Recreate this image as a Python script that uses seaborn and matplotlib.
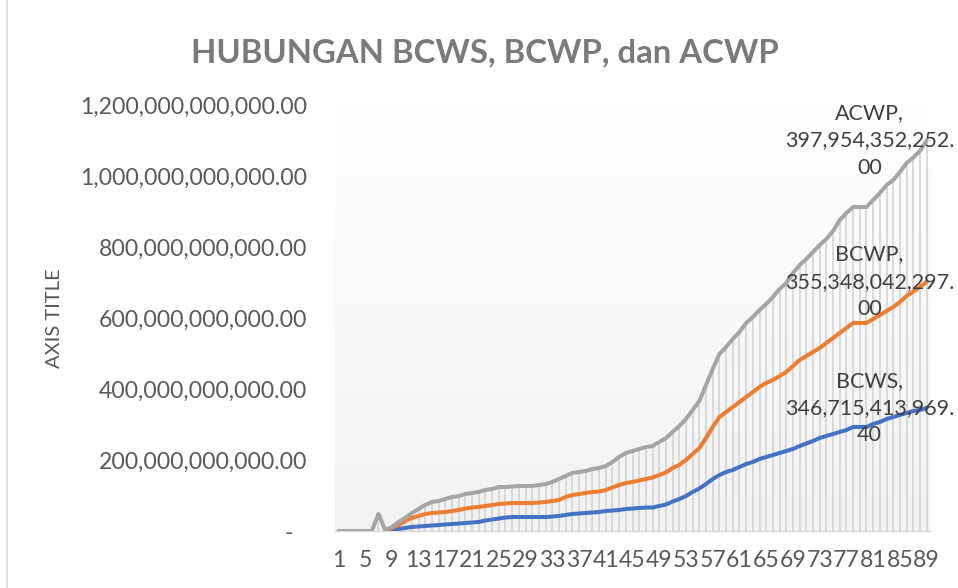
import numpy as np
import pandas as pd
import matplotlib
matplotlib.use("Agg")
import matplotlib.pyplot as plt
import seaborn as sns
from matplotlib.ticker import FixedLocator, FuncFormatter
from matplotlib.lines import Line2D

nan = np.nan

# ---------------- data (values in billions) ----------------
periods = list(range(1, 90))

bcws = [nan, nan, nan, nan, nan, nan, nan, 0.0, 2.8, 5.6,
        8.5, 11.3, 12.7, 14.1, 15.5, 16.9, 18.3, 19.7, 21.1, 22.5,
        23.9, 25.4, 29.6, 32.4, 35.2, 38.0, 39.4, 39.4, 39.4, 39.4,
        39.4, 39.4, 40.8, 42.3, 45.1, 47.9, 49.3, 50.7, 52.1, 53.5,
        56.3, 57.7, 59.2, 62.0, 63.4, 64.8, 66.2, 66.2, 70.4, 74.6,
        83.1, 90.1, 98.6, 109.9, 119.7, 132.4, 146.5, 157.7, 166.2, 171.8,
        180.3, 188.7, 194.4, 202.8, 208.5, 214.1, 219.7, 225.4, 231.0, 239.4,
        246.5, 253.5, 262.0, 267.6, 273.2, 278.9, 284.5, 293.0, 293.0, 293.0,
        301.4, 307.0, 315.5, 321.1, 326.8, 332.4, 338.0, 340.8, 346.7154139694]

bcwp = [nan, nan, nan, nan, nan, nan, nan, 0.0, 5.6, 11.3,
        19.7, 25.4, 29.6, 33.8, 35.2, 35.2, 35.2, 36.6, 38.0, 40.8,
        42.3, 42.3, 40.8, 40.8, 40.8, 39.4, 39.4, 39.4, 39.4, 39.4,
        40.8, 42.3, 43.7, 45.1, 50.7, 53.5, 54.9, 56.3, 57.7, 57.7,
        59.2, 64.8, 70.4, 73.2, 74.6, 77.5, 80.3, 84.5, 87.3, 90.1,
        94.4, 95.8, 101.4, 107.0, 114.1, 129.6, 146.5, 163.4, 169.0, 177.5,
        183.1, 188.7, 197.2, 202.8, 208.5, 211.3, 216.9, 222.5, 233.8, 242.3,
        246.5, 250.7, 253.5, 262.0, 270.4, 278.9, 287.3, 293.0, 293.0, 293.0,
        295.8, 301.4, 304.2, 309.9, 318.3, 329.6, 336.7, 346.5, 355.348042297]

acwp = [0.0, 0.0, 0.0, 0.0, 0.0, 0.0, 47.9, 2.8, 2.8, 8.5,
        8.5, 14.1, 19.7, 25.4, 31.0, 32.4, 36.6, 39.4, 39.4, 40.8,
        40.8, 42.3, 45.1, 45.1, 47.9, 46.5, 46.5, 47.9, 47.9, 47.9,
        49.3, 50.7, 53.5, 59.2, 59.2, 62.0, 62.0, 62.0, 64.8, 66.2,
        67.6, 71.8, 78.9, 84.5, 87.3, 88.7, 90.1, 88.7, 93.0, 97.2,
        101.4, 109.9, 115.5, 123.9, 132.4, 149.3, 163.4, 177.5, 183.1, 191.5,
        197.2, 208.5, 211.3, 216.9, 222.5, 233.8, 245.1, 250.7, 261.9, 267.6,
        273.2, 281.7, 290.1, 293.0, 301.4, 318.3, 323.9, 326.8, 326.8, 326.8,
        335.2, 343.7, 354.9, 357.7, 366.2, 374.6, 377.5, 383.1, 397.954352252]

series_names = ["BCWS", "BCWP", "ACWP"]
series_colors = ["#4472C4", "#ED7D31", "#A5A5A5"]
x_tick_values = list(range(1, 90, 4))
y_tick_values = [0, 200, 400, 600, 800, 1000, 1200]   # billions
title_text = "HUBUNGAN BCWS, BCWP, dan ACWP"
y_title = "AXIS TITLE"
SCALE = 1e9

# ---------------- stacking ----------------
df = pd.DataFrame({"period": periods, "BCWS": bcws, "BCWP": bcwp, "ACWP": acwp})
stack = df[series_names].fillna(0).cumsum(axis=1) * SCALE
for n in series_names:
    stack.loc[df[n].isna(), n] = np.nan
stack["period"] = df["period"]

# ---------------- style ----------------
sns.set_style("white")
plt.rcParams["font.family"] = ["Lato", "DejaVu Sans"]

W, H = 958, 588
fig = plt.figure(figsize=(W / 100, H / 100), dpi=100)
fig.patch.set_facecolor("white")

L, R, T, B = 335, 930, 105, 531
ax = fig.add_axes([L / W, 1 - B / H, (R - L) / W, (B - T) / H])

# gradient plot-area background
grad = np.linspace(1.0, 0.949, 256)
img = np.dstack([grad, grad, grad]).reshape(256, 1, 3)
ax.imshow(img, extent=[0, 1, 0, 1], transform=ax.transAxes, aspect="auto",
          origin="upper", zorder=0, interpolation="bilinear")

# drop lines
ax.vlines(stack["period"], 0, stack["ACWP"], colors="#d4d4d4", linewidth=1.2, zorder=1)

for name, color in zip(series_names, series_colors):
    sns.lineplot(data=stack, x="period", y=name, color=color, linewidth=2.9,
                 ax=ax, zorder=3, solid_joinstyle="round", solid_capstyle="round")

ax.set_xlim(0.5, 89.5)
ax.set_ylim(0, 1.2e12)
ax.set_xlabel("")
ax.set_ylabel("")

ax.xaxis.set_major_locator(FixedLocator(x_tick_values))
ax.set_xticklabels([str(v) for v in x_tick_values])
ax.yaxis.set_major_locator(FixedLocator([v * SCALE for v in y_tick_values]))
ax.yaxis.set_major_formatter(FuncFormatter(
    lambda v, _: "-\u2007" if v == 0 else f"{v:,.2f}"))

ax.tick_params(axis="y", length=0, pad=20, labelsize=16.6, labelcolor="#595959")
ax.tick_params(axis="x", length=0, pad=14, labelsize=16.6, labelcolor="#595959")

for s in ["left", "right", "top"]:
    ax.spines[s].set_visible(False)
ax.spines["bottom"].set_color("#d9d9d9")
ax.spines["bottom"].set_linewidth(1.0)
ax.spines["bottom"].set_zorder(2)
ax.grid(False)

# data labels at the last point
last = stack.iloc[-1]
for name in series_names:
    raw = df[name].iloc[-1] * SCALE
    s = f"{raw:,.2f}"
    label = f"{name},\n{s[:-2]}\n{s[-2:]}"
    ax.annotate(label, xy=(last["period"], last[name]), xytext=(-57, 0),
                textcoords="offset pixels", ha="center", va="center",
                multialignment="center", fontsize=15.5, color="#404040",
                linespacing=1.45, zorder=5, annotation_clip=False)

fig.text(485 / W, 1 - 62 / H, title_text, ha="center", va="baseline",
         fontsize=23.7, fontweight="bold", color="#7a7a7a")
fig.text(55 / W, 1 - 318 / H, y_title, rotation=90, ha="center", va="center",
         fontsize=14.5, color="#595959")

fig.add_artist(Line2D([7 / W, 7 / W], [0, 1], transform=fig.transFigure,
                      color="#d9d9d9", linewidth=1.2))

fig.savefig("out.png", dpi=100)
